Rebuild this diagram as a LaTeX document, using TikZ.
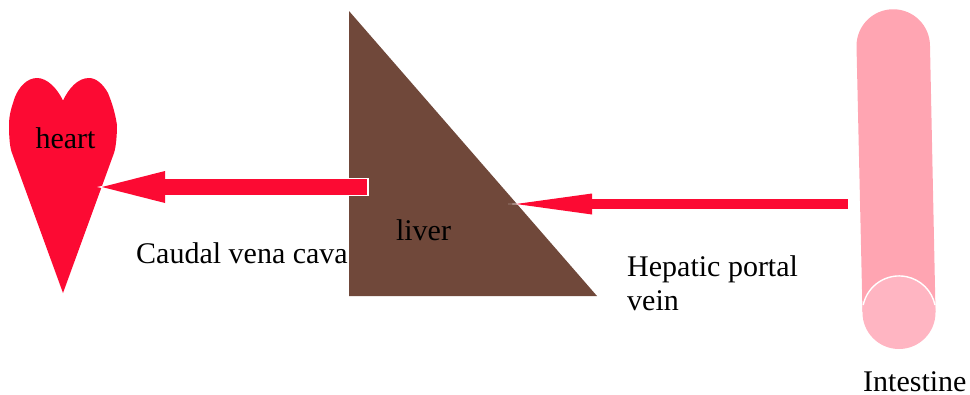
\documentclass[tikz,border=0pt]{standalone}
\usepackage{fontspec}
\setmainfont{Liberation Serif}
\usetikzlibrary{arrows.meta}
\definecolor{bloodred}{HTML}{FC0A33}
\definecolor{liverbrown}{HTML}{70483A}
\definecolor{tubepink}{HTML}{FFA5B2}
\definecolor{endpink}{HTML}{FFB5C2}
\tikzset{
  x=1pt,y=-1pt,
  lbl/.style={font=\fontsize{30}{32}\selectfont,text=black,inner sep=0pt},
}
\begin{document}
\begin{tikzpicture}
\useasboundingbox (0,0) rectangle (970,394);
% intestine
\fill[tubepink] (856.5,46) arc[start angle=180,end angle=360,radius=36.75] -- (935.5,312) -- (862.5,312) -- cycle;
\fill[endpink] (899,312.5) circle[radius=36.5];
\draw[white,line width=1.4] (863.2,305) arc[start angle=192,end angle=348,radius=36.7];
% liver
\fill[liverbrown] (349,11) -- (597,296) -- (349,296) -- cycle;
% heart
\fill[bloodred] (63,100.5) .. controls (57,88) and (47,78) .. (37,78)
  .. controls (27,78) and (19,87) .. (15,97)
  .. controls (12,106) and (9,114) .. (9,125)
  .. controls (9,138) and (10,148) .. (12,153)
  -- (63,293) -- (114,153)
  .. controls (116,147) and (117,135) .. (117,125)
  .. controls (115,112) and (112,103) .. (108,93)
  .. controls (103,84) and (96,78) .. (89,78)
  .. controls (78,78) and (69,88) .. (63,100.5) -- cycle;
% named ends
\coordinate (cavaStart) at (367,187);
\coordinate (cavaOutline) at (368.6,187);
\coordinate (cavaEnd) at (97,187);
\coordinate (cavaTip) at (102,187);
\coordinate (portalStart) at (848,204);
\coordinate (portalEnd) at (508,204);
\coordinate (portalTip) at (516,204);
% arrows
\draw[white,line width=18] (cavaOutline) -- (170,187);
\path[fill=white] (cavaEnd) -- (165,173) -- (165,201) -- cycle;
\draw[bloodred,line width=15.5,line cap=butt,-{Triangle[length=63,width=32,line width=0pt]}] (cavaStart) -- (cavaTip);
\path[fill=white] (portalEnd) -- (560,201) -- (560,207) -- cycle;
\draw[bloodred,line width=10,line cap=butt,-{Triangle[length=76,width=21,line width=0pt]}] (portalStart) -- (portalTip);
% labels
\node[lbl,anchor=center] (heart) at (65.5,138) {heart};
\node[lbl,anchor=center] (liver) at (423.5,230) {liver};
\node[lbl,anchor=base west] (cava) at (136,263) {Caudal vena cava};
\node[lbl,anchor=base west] (portal1) at (627,276) {Hepatic portal};
\node[lbl,anchor=base west] (portal2) at (627,310) {vein};
\node[lbl,anchor=base west] (intestine) at (863,391) {Intestine};
\end{tikzpicture}
\end{document}
